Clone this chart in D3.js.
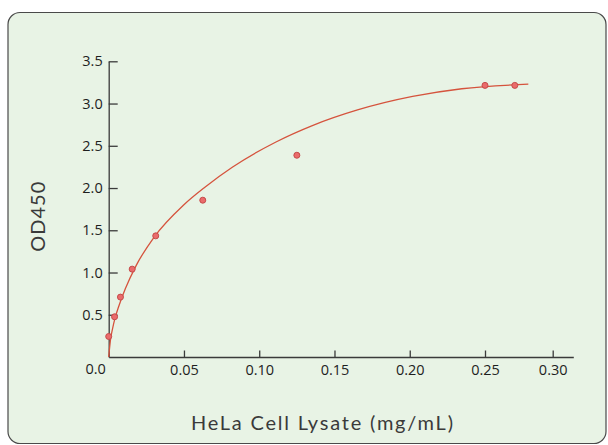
<!DOCTYPE html>
<html>
<head>
<meta charset="utf-8">
<script src="https://cdn.jsdelivr.net/npm/d3@7"></script>
<style>
  html, body { margin: 0; padding: 0; background: #ffffff; }
  svg { display: block; }
</style>
</head>
<body>
<svg id="chart" width="608" height="445"></svg>
<script>
// ---- data ----
const concentrations = [0, 0.0039, 0.0078, 0.0156, 0.03125, 0.0625, 0.125, 0.25, 0.272];
const od450Values    = [0.243, 0.476, 0.709, 1.04, 1.434, 1.856, 2.388, 3.215, 3.215];

// fitted standard curve
const curveX = [0, 0.0013, 0.0025, 0.0042, 0.0067, 0.0111, 0.0183, 0.0302, 0.0498, 0.0639,
                0.0821, 0.1108, 0.1353, 0.1653, 0.2019, 0.2346, 0.282];
const curveY = [0, 0.22, 0.33, 0.46, 0.60, 0.81, 1.085, 1.42, 1.80, 2.01,
                2.246, 2.542, 2.739, 2.924, 3.084, 3.175, 3.229];

const xTickValues = [0.05, 0.10, 0.15, 0.20, 0.25, 0.30];
const xTickLabels = ["0.05", "0.10", "0.15", "0.20", "0.25", "0.30"];
const yTickValues = [0.5, 1.0, 1.5, 2.0, 2.5, 3.0, 3.5];
const yTickLabels = ["0.5", "1.0", "1.5", "2.0", "2.5", "3.0", "3.5"];
const originLabel = "0.0";
const xTitle = "HeLa Cell Lysate (mg/mL)";
const yTitle = "OD450";

// ---- layout ----
const svg = d3.select("#chart");
const x0 = 108.7, y0 = 357;

// panel
svg.append("rect")
  .attr("x", 8).attr("y", 12.5)
  .attr("width", 598).attr("height", 431)
  .attr("rx", 12).attr("ry", 12)
  .attr("fill", "#e8f3e5")
  .attr("stroke", "#4a4a4a")
  .attr("stroke-width", 1.2);

// scales (the original axis is slightly compressed past 0.25)
const x = d3.scaleLinear()
  .domain([0, 0.25, 0.30, 0.3152])
  .range([x0, 485, 552.7, 573.3]);
const y = d3.scaleLinear()
  .domain([0, 3.5])
  .range([y0, 61.3]);

const tickFont = "'Open Sans', 'Noto Sans', sans-serif";

// x axis
const gx = svg.append("g")
  .attr("transform", `translate(0,${y0})`)
  .call(d3.axisBottom(x)
    .tickValues(xTickValues)
    .tickFormat((d, i) => xTickLabels[i])
    .tickSizeInner(-6.5)
    .tickSizeOuter(0)
    .tickPadding(8));

// y axis
const gy = svg.append("g")
  .attr("transform", `translate(${x0},0)`)
  .call(d3.axisLeft(y)
    .tickValues(yTickValues)
    .tickFormat((d, i) => yTickLabels[i])
    .tickSizeInner(-9)
    .tickSizeOuter(0)
    .tickPadding(6));

[gx, gy].forEach(g => {
  g.select(".domain").attr("stroke", "#3a3a3a").attr("stroke-width", 1.3);
  g.selectAll(".tick line").attr("stroke", "#3a3a3a").attr("stroke-width", 1.3);
  g.selectAll(".tick text")
    .attr("fill", "#1e1e1e")
    .style("font-family", tickFont)
    .style("font-size", "14.5px");
});

// origin label
svg.append("text")
  .attr("x", x0 - 13).attr("y", y0 + 17)
  .attr("text-anchor", "middle")
  .attr("fill", "#1e1e1e")
  .style("font-family", tickFont)
  .style("font-size", "14.5px")
  .text(originLabel);

// fitted curve
const line = d3.line()
  .x(d => x(d[0]))
  .y(d => y(d[1]))
  .curve(d3.curveMonotoneX);

svg.append("path")
  .datum(d3.zip(curveX, curveY))
  .attr("d", line)
  .attr("fill", "none")
  .attr("stroke", "#d5533d")
  .attr("stroke-width", 1.3);

// data points
svg.append("g")
  .selectAll("circle")
  .data(d3.zip(concentrations, od450Values))
  .join("circle")
  .attr("cx", d => x(d[0]))
  .attr("cy", d => y(d[1]))
  .attr("r", 3)
  .attr("fill", "#ea6b6b")
  .attr("stroke", "#c64a4a")
  .attr("stroke-width", 1);

// axis titles
const titleFont = "Lato, 'Open Sans', sans-serif";
svg.append("text")
  .attr("x", 322).attr("y", 430)
  .attr("text-anchor", "middle")
  .attr("fill", "#3a3a3a")
  .attr("textLength", 262)
  .attr("lengthAdjust", "spacing")
  .style("font-family", titleFont)
  .style("font-size", "20px")
  .text(xTitle);

svg.append("text")
  .attr("transform", "translate(45,216.7) rotate(-90)")
  .attr("text-anchor", "middle")
  .attr("fill", "#3a3a3a")
  .attr("textLength", 70)
  .attr("lengthAdjust", "spacing")
  .style("font-family", titleFont)
  .style("font-size", "20px")
  .text(yTitle);
</script>
</body>
</html>
